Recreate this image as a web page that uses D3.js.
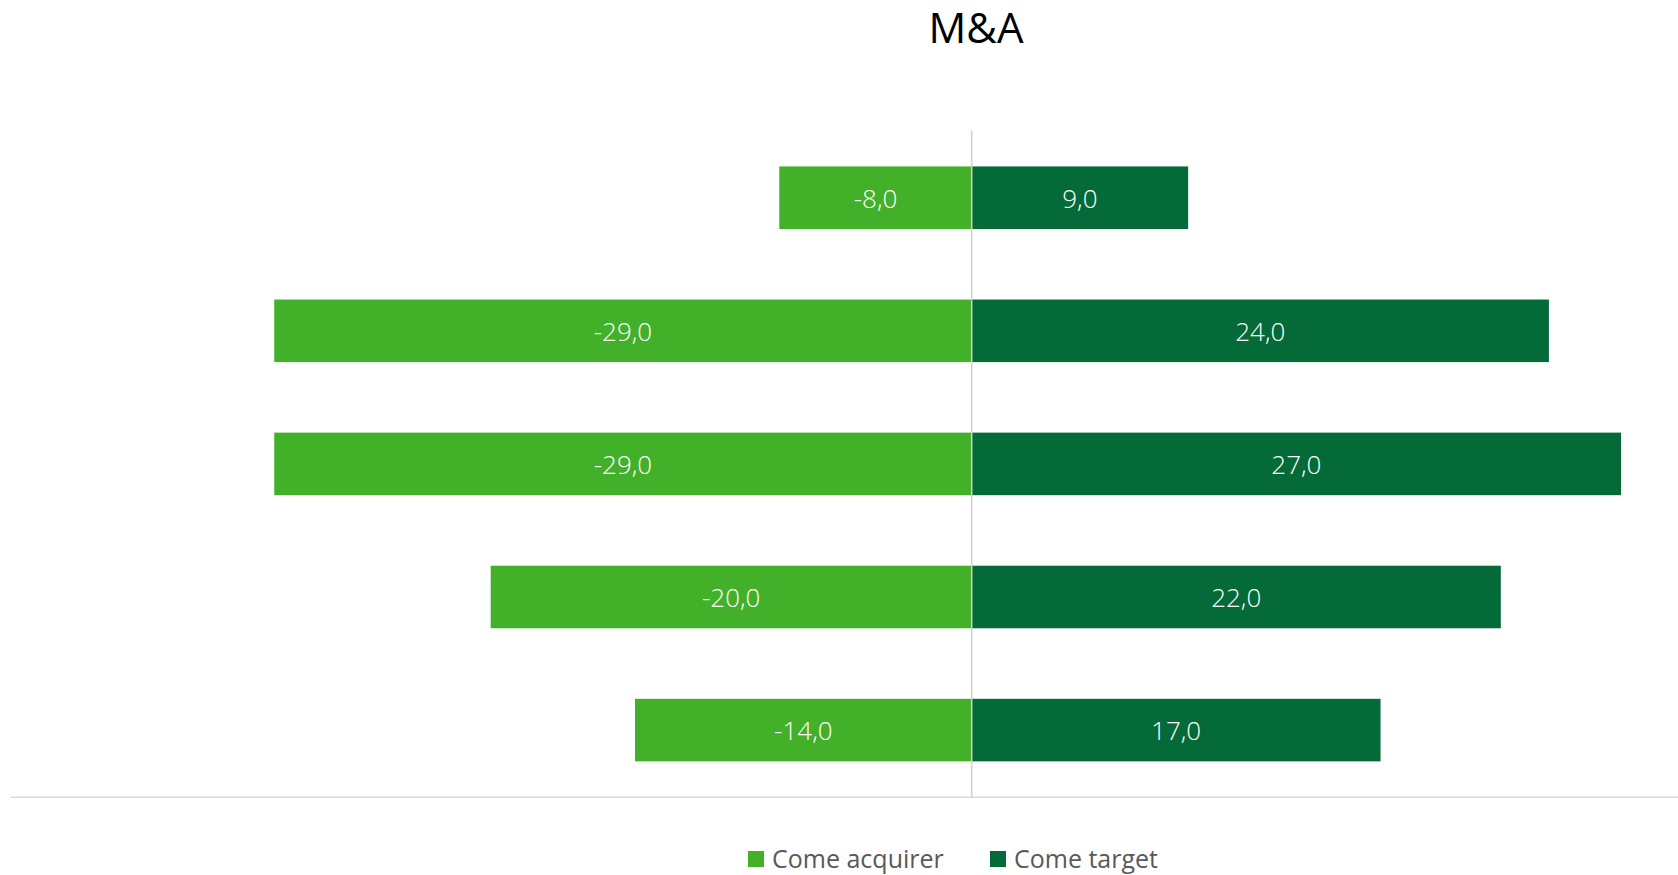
<!DOCTYPE html>
<html>
<head>
<meta charset="utf-8">
<script src="https://cdn.jsdelivr.net/npm/d3@7"></script>
<style>
  html, body { margin: 0; padding: 0; background: #ffffff; }
  svg { display: block; }
</style>
</head>
<body>
<svg id="chart" width="1678" height="875"></svg>
<script>
// ---- Data ----
const categories = ["1", "2", "3", "4", "5"];
const acquirerValues = [-8, -29, -29, -20, -14];
const targetValues = [9, 24, 27, 22, 17];
const seriesNames = ["Come acquirer", "Come target"];
const seriesColors = ["#43B02A", "#046A38"];
const xDomain = [-40, 30];
const titleText = "M&A";

// ---- Layout ----
const W = 1678, H = 875;
const plot = { left: 9.7, right: 1693.2, top: 130.5, bottom: 797.3, lineLeft: 10.7 };
const svg = d3.select("#chart");

const x = d3.scaleLinear().domain(xDomain).range([plot.left, plot.right]);
const y = d3.scaleBand().domain(categories).range([plot.top, plot.bottom]).paddingInner(0.53).paddingOuter(0.27);

const fmt = v => d3.format(".1f")(v).replace(".", ",").replace("−", "-");

const rows = categories.map((c, i) => ({ c, a: acquirerValues[i], t: targetValues[i] }));

// Bars
const series = [
  { key: "a", color: seriesColors[0] },
  { key: "t", color: seriesColors[1] }
];
series.forEach(s => {
  const g = svg.append("g");
  g.selectAll("rect").data(rows).join("rect")
    .attr("x", d => x(Math.min(0, d[s.key])))
    .attr("width", d => Math.abs(x(d[s.key]) - x(0)))
    .attr("y", d => y(d.c))
    .attr("height", y.bandwidth())
    .attr("fill", s.color);
  g.selectAll("text").data(rows).join("text")
    .attr("x", d => (x(d[s.key]) + x(0)) / 2)
    .attr("y", d => y(d.c) + y.bandwidth() / 2)
    .attr("dy", "0.38em")
    .attr("text-anchor", "middle")
    .attr("fill", "#ffffff")
    .style("font-family", "'Open Sans', sans-serif")
    .style("font-weight", 300)
    .style("font-size", "26px")
    .text(d => fmt(d[s.key]));
});

// Zero (category) axis line
svg.append("line")
  .attr("x1", x(0)).attr("x2", x(0))
  .attr("y1", plot.top).attr("y2", plot.bottom)
  .attr("stroke", "#d0d0d0").attr("stroke-width", 1.5);

// Bottom axis line
svg.append("line")
  .attr("x1", plot.lineLeft).attr("x2", W)
  .attr("y1", plot.bottom).attr("y2", plot.bottom)
  .attr("stroke", "#d9d9d9").attr("stroke-width", 1.5);

// Title
svg.append("text")
  .attr("x", 976).attr("y", 43)
  .attr("text-anchor", "middle")
  .attr("fill", "#000000")
  .style("font-family", "'Open Sans', sans-serif")
  .style("font-size", "42px")
  .text(titleText);

// Legend
const legendItems = [
  { name: seriesNames[0], color: seriesColors[0], x: 748 },
  { name: seriesNames[1], color: seriesColors[1], x: 990 }
];
const lg = svg.append("g");
legendItems.forEach(it => {
  lg.append("rect").attr("x", it.x).attr("y", 851).attr("width", 16).attr("height", 16).attr("fill", it.color);
  lg.append("text")
    .attr("x", it.x + 24).attr("y", 868)
    .attr("fill", "#595959")
    .style("font-family", "'Open Sans', sans-serif")
    .style("font-size", "25px")
    .text(it.name);
});
</script>
</body>
</html>
